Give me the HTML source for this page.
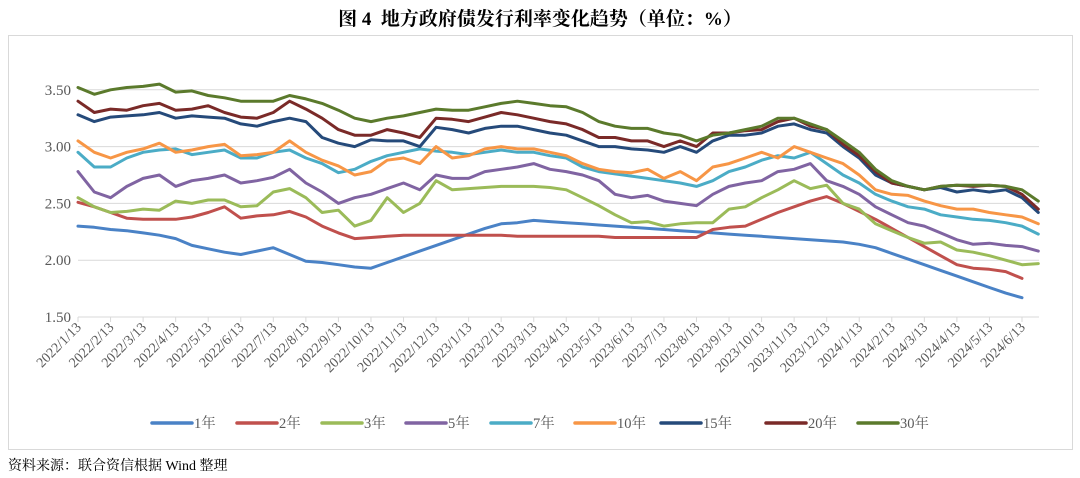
<!DOCTYPE html>
<html><head><meta charset="utf-8"><style>
html,body{margin:0;padding:0;background:#fff;width:1080px;height:478px;overflow:hidden}
svg{display:block}
</style></head><body>
<svg id="chart" width="1080" height="478" viewBox="0 0 1080 478" xmlns="http://www.w3.org/2000/svg">
<text x="540" y="25" text-anchor="middle" xml:space="preserve" style="white-space:pre" font-family="'Liberation Serif','Noto Serif CJK SC',serif" font-weight="bold" font-size="19" fill="#000">图 4  地方政府债发行利率变化趋势（单位：%）</text>
<rect x="8.5" y="35.5" width="1064" height="414" fill="#fff" stroke="#d9d9d9"/>
<g id="grid"></g>
<g id="yticks"></g>
<g id="xticks"></g>
<g id="series"></g>
<g id="legend"></g>
<text x="8" y="470" font-family="'Liberation Serif','Noto Serif CJK SC',serif" font-size="14" fill="#000">资料来源：联合资信根据 Wind 整理</text>
</svg>
<script>
const months = [];
for (let i = 0; i < 60; i++) months.push(i * 0.5);
const xTickLabels = ["2022/1/13","2022/2/13","2022/3/13","2022/4/13","2022/5/13","2022/6/13","2022/7/13","2022/8/13","2022/9/13","2022/10/13","2022/11/13","2022/12/13","2023/1/13","2023/2/13","2023/3/13","2023/4/13","2023/5/13","2023/6/13","2023/7/13","2023/8/13","2023/9/13","2023/10/13","2023/11/13","2023/12/13","2024/1/13","2024/2/13","2024/3/13","2024/4/13","2024/5/13","2024/6/13"];
const yTicks = [1.5, 2.0, 2.5, 3.0, 3.5];
const seriesNames = ["1年","2年","3年","5年","7年","10年","15年","20年","30年"];
const seriesColors = ["#4a82c6","#c0504d","#9bbb59","#8064a2","#4bacc6","#f79646","#254a7a","#7a2a28","#5b7a2c"];
const y1 = [2.30,2.29,2.27,2.26,2.24,2.22,2.19,2.13,2.10,2.07,2.05,2.08,2.11,2.05,1.99,1.98,1.96,1.94,1.93,1.98,2.03,2.08,2.13,2.18,2.23,2.28,2.32,2.33,2.35,2.34,2.33,2.32,2.31,2.30,2.29,2.28,2.27,2.26,2.25,2.24,2.23,2.22,2.21,2.20,2.19,2.18,2.17,2.16,2.14,2.11,2.06,2.01,1.96,1.91,1.86,1.81,1.76,1.71,1.67,null];
const y2 = [2.51,2.47,2.42,2.37,2.36,2.36,2.36,2.38,2.42,2.47,2.37,2.39,2.40,2.43,2.38,2.30,2.24,2.19,2.20,2.21,2.22,2.22,2.22,2.22,2.22,2.22,2.22,2.21,2.21,2.21,2.21,2.21,2.21,2.20,2.20,2.20,2.20,2.20,2.20,2.27,2.29,2.30,2.36,2.42,2.47,2.52,2.56,2.50,2.43,2.36,2.28,2.20,2.12,2.04,1.96,1.93,1.92,1.90,1.84,null];
const y3 = [2.55,2.47,2.42,2.43,2.45,2.44,2.52,2.50,2.53,2.53,2.47,2.48,2.60,2.63,2.55,2.42,2.44,2.30,2.35,2.55,2.42,2.50,2.70,2.62,2.63,2.64,2.65,2.65,2.65,2.64,2.62,2.55,2.48,2.40,2.33,2.34,2.30,2.32,2.33,2.33,2.45,2.47,2.55,2.62,2.70,2.63,2.66,2.50,2.45,2.32,2.26,2.20,2.15,2.16,2.09,2.07,2.04,2.00,1.96,1.97];
const y5 = [2.78,2.60,2.55,2.65,2.72,2.75,2.65,2.70,2.72,2.75,2.68,2.70,2.73,2.80,2.68,2.60,2.50,2.55,2.58,2.63,2.68,2.62,2.75,2.72,2.72,2.78,2.80,2.82,2.85,2.80,2.78,2.75,2.70,2.58,2.55,2.57,2.52,2.50,2.48,2.58,2.65,2.68,2.70,2.78,2.80,2.85,2.70,2.65,2.58,2.47,2.40,2.33,2.30,2.24,2.18,2.14,2.15,2.13,2.12,2.08];
const y7 = [2.95,2.82,2.82,2.90,2.95,2.97,2.98,2.93,2.95,2.97,2.90,2.90,2.95,2.97,2.90,2.85,2.77,2.80,2.87,2.92,2.95,2.98,2.96,2.95,2.93,2.95,2.97,2.95,2.95,2.92,2.90,2.82,2.78,2.76,2.74,2.72,2.70,2.68,2.65,2.70,2.78,2.82,2.88,2.92,2.90,2.95,2.85,2.75,2.68,2.58,2.52,2.47,2.45,2.40,2.38,2.36,2.35,2.33,2.30,2.23];
const y10 = [3.05,2.95,2.90,2.95,2.98,3.03,2.95,2.97,3.00,3.02,2.92,2.93,2.95,3.05,2.95,2.88,2.83,2.75,2.78,2.88,2.90,2.85,3.00,2.90,2.92,2.98,3.00,2.98,2.98,2.95,2.92,2.85,2.80,2.78,2.77,2.80,2.72,2.78,2.70,2.82,2.85,2.90,2.95,2.90,3.00,2.95,2.90,2.85,2.75,2.62,2.58,2.57,2.52,2.48,2.45,2.45,2.42,2.40,2.38,2.32];
const y15 = [3.28,3.22,3.26,3.27,3.28,3.30,3.25,3.27,3.26,3.25,3.20,3.18,3.22,3.25,3.22,3.08,3.03,3.00,3.06,3.05,3.05,3.00,3.17,3.15,3.12,3.16,3.18,3.18,3.15,3.12,3.10,3.05,3.00,3.00,2.98,2.97,2.95,3.00,2.95,3.05,3.10,3.10,3.12,3.18,3.20,3.15,3.12,3.00,2.90,2.75,2.68,2.65,2.62,2.64,2.60,2.62,2.60,2.62,2.55,2.42];
const y20 = [3.40,3.30,3.33,3.32,3.36,3.38,3.32,3.33,3.36,3.30,3.26,3.25,3.30,3.40,3.33,3.25,3.15,3.10,3.10,3.15,3.12,3.08,3.25,3.24,3.22,3.26,3.30,3.28,3.25,3.22,3.20,3.15,3.08,3.08,3.05,3.05,3.00,3.05,3.00,3.12,3.12,3.14,3.15,3.22,3.25,3.18,3.15,3.02,2.92,2.78,2.68,2.65,2.62,2.65,2.66,2.65,2.66,2.65,2.58,2.45];
const y30 = [3.52,3.46,3.50,3.52,3.53,3.55,3.48,3.49,3.45,3.43,3.40,3.40,3.40,3.45,3.42,3.38,3.32,3.25,3.22,3.25,3.27,3.30,3.33,3.32,3.32,3.35,3.38,3.40,3.38,3.36,3.35,3.30,3.22,3.18,3.16,3.16,3.12,3.10,3.05,3.10,3.12,3.15,3.18,3.25,3.25,3.20,3.15,3.05,2.95,2.80,2.70,2.65,2.62,2.65,2.66,2.66,2.66,2.65,2.62,2.52];
const allSeries = [y1,y2,y3,y5,y7,y10,y15,y20,y30];

const NS = "http://www.w3.org/2000/svg";
const X0 = 78, X1 = 1022, PR = 1039;
const xs = m => X0 + m * (X1 - X0) / 29;
const ys = v => 317 - (v - 1.5) * 113.6;
function mk(tag, attrs, parent){const e=document.createElementNS(NS,tag);for(const k in attrs)e.setAttribute(k,attrs[k]);parent.appendChild(e);return e;}
const grid=document.getElementById('grid'), yt=document.getElementById('yticks'), xt=document.getElementById('xticks'), sg=document.getElementById('series'), lg=document.getElementById('legend');
yTicks.forEach(v=>{
  const l=mk('line',{x1:X0,x2:PR,y1:ys(v),y2:ys(v),stroke:'#d9d9d9','stroke-width':1},grid);
  
  
  const t=mk('text',{x:X0-7,y:ys(v)+5,'text-anchor':'end','font-family':"'Liberation Serif',serif",'font-size':15,fill:'#595959'},yt);
  t.textContent=v.toFixed(2);
  
  
});
xTickLabels.forEach((lab,i)=>{
  const x=xs(i);
  const tk=mk('line',{x1:x,x2:x,y1:317,y2:322,stroke:'#d9d9d9'},xt);
  
  
  const t=mk('text',{x:x+4,y:328,'text-anchor':'end','font-family':"'Liberation Serif',serif",'font-size':14,fill:'#595959',transform:`rotate(-45 ${x+4} 328)`},xt);
  t.textContent=lab;
  
  
});
allSeries.forEach((arr,si)=>{
  let d='';let pen=false;
  arr.forEach((v,i)=>{ if(v==null){pen=false;return;} d+=(pen?'L':'M')+xs(months[i]).toFixed(1)+' '+ys(v).toFixed(1)+' '; pen=true; });
  const p=mk('path',{d:d,fill:'none',stroke:seriesColors[si],'stroke-width':3,'stroke-linejoin':'round','stroke-linecap':'round'},sg);
  
  
});
const legX=[152,237,322,406,491,575,661,766,858];
seriesNames.forEach((n,i)=>{
  const g=mk('g',{},lg);
  
  
  mk('line',{x1:legX[i],x2:legX[i]+40,y1:423,y2:423,stroke:seriesColors[i],'stroke-width':3.5,'stroke-linecap':'round'},g);
  const t=mk('text',{x:legX[i]+42,y:428,'font-family':"'Liberation Serif','Noto Serif CJK SC',serif",'font-size':14.5,fill:'#595959'},g);
  t.textContent=n;
});
</script>
</body></html>
